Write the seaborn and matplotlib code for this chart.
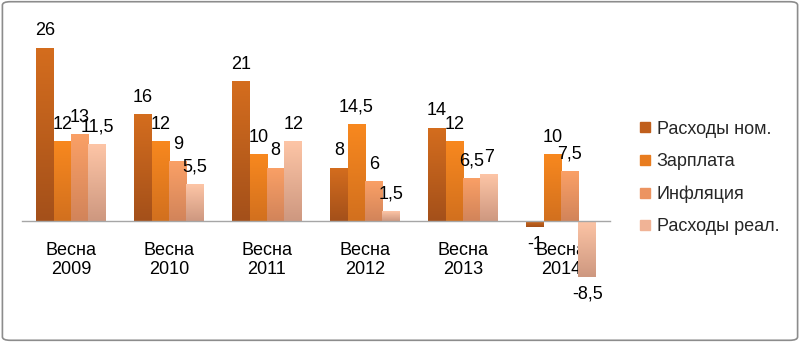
import numpy as np
import pandas as pd
import matplotlib
matplotlib.use("Agg")
import matplotlib.pyplot as plt
import seaborn as sns
from matplotlib.colors import LinearSegmentedColormap
from matplotlib.patches import FancyBboxPatch
from matplotlib.lines import Line2D

categories = ["Весна\n2009", "Весна\n2010", "Весна\n2011", "Весна\n2012", "Весна\n2013", "Весна\n2014"]
series = ["Расходы ном.", "Зарплата", "Инфляция", "Расходы реал."]
rashody_nom = [26, 16, 21, 8, 14, -1]
zarplata = [12, 12, 10, 14.5, 12, 10]
inflyatsiya = [13, 9, 8, 6, 6.5, 7.5]
rashody_real = [11.5, 5.5, 12, 1.5, 7, -8.5]

top_colors = ["#D46D1E", "#F8881F", "#FAA066", "#FDC5A6"]
bottom_colors = ["#A4501A", "#D2701E", "#D2845A", "#CE9880"]
mid_colors = ["#C05F1C", "#E87C1F", "#EC9461", "#F0B396"]

df = pd.DataFrame({
    "cat": categories * 4,
    "series": sum([[s] * len(categories) for s in series], []),
    "value": rashody_nom + zarplata + inflyatsiya + rashody_real,
})

sns.set_theme(style="white")
plt.rcParams["font.family"] = ["Liberation Sans", "DejaVu Sans"]

fig = plt.figure(figsize=(8, 3.42), dpi=100)
ax = fig.add_axes([0.0275, 0.152, 0.735, 0.79])

sns.barplot(data=df, x="cat", y="value", hue="series", hue_order=series,
            order=categories, palette=mid_colors, width=0.714, ax=ax,
            legend=False, saturation=1, linewidth=0)

ax.set_xlim(-0.5, 5.5)
ax.set_ylim(-10.4, 30.2)

# gradient fill over each bar
for cont, tc, bc in zip(ax.containers, top_colors, bottom_colors):
    cmap = LinearSegmentedColormap.from_list("g", [bc, tc])
    grad = np.linspace(0, 1, 100).reshape(-1, 1)
    for p in cont.patches:
        x0, y0 = p.get_x(), p.get_y()
        w, h = p.get_width(), p.get_height()
        ylo, yhi = min(y0, y0 + h), max(y0, y0 + h)
        im = ax.imshow(grad, cmap=cmap, origin="lower", aspect="auto",
                       extent=[x0, x0 + w, ylo, yhi], zorder=p.get_zorder() + 0.1)
        im.set_clip_path(p)

# data labels
for cont in ax.containers:
    labels = [("%g" % v).replace(".", ",") for v in cont.datavalues]
    ax.bar_label(cont, labels=labels, padding=6, fontsize=13, color="black")

# axis styling
for s in ["top", "right", "left"]:
    ax.spines[s].set_visible(False)
ax.spines["bottom"].set_position(("data", 0))
ax.spines["bottom"].set_color("#A6A6A6")
ax.spines["bottom"].set_linewidth(1)
ax.set_yticks([])
ax.set_xlabel("")
ax.set_ylabel("")
ax.set_xticks(range(len(categories)))
ax.set_xticklabels(categories, fontsize=13, color="black", linespacing=1.2)
ax.tick_params(axis="x", which="major", length=0, pad=15)
ax.set_xticks(np.arange(-0.5, 6, 1), minor=True)
ax.tick_params(axis="x", which="minor", length=5, color="#A6A6A6", direction="out")

# legend
handles = [Line2D([0], [0], marker="s", linestyle="none", markersize=7,
                  markerfacecolor=c, markeredgecolor=c) for c in mid_colors]
fig.legend(handles, series, loc="upper left", bbox_to_anchor=(0.787, 0.668),
           frameon=False, fontsize=13, labelspacing=0.85, handletextpad=0.2,
           handlelength=0.9, borderaxespad=0)

# figure border
border = FancyBboxPatch((0.003, 0.005), 0.994, 0.99, boxstyle="round,pad=0,rounding_size=0.01",
                        transform=fig.transFigure, facecolor="none",
                        edgecolor="#8C8C8C", linewidth=1.2)
fig.patches.append(border)

fig.savefig("out.png", dpi=100)
